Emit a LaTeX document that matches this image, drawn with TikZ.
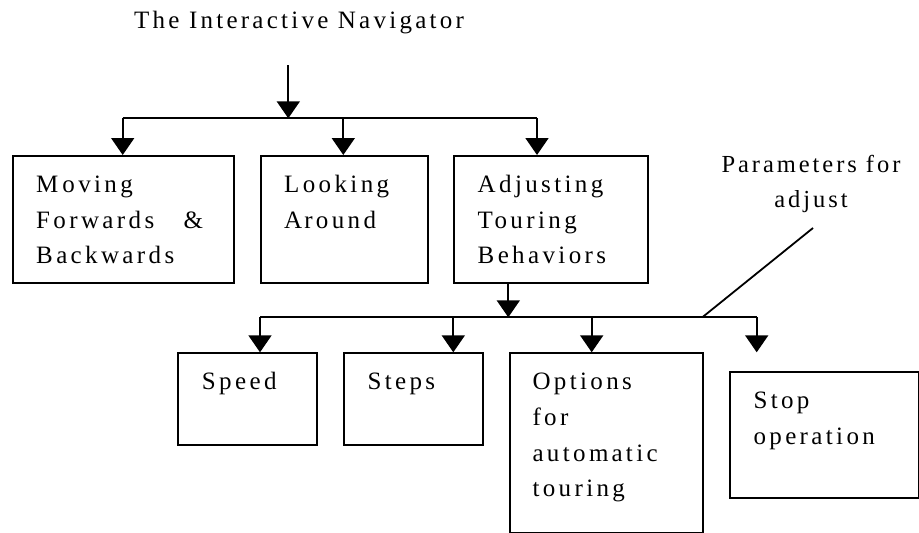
\documentclass[tikz,border=0pt]{standalone}
\usepackage{fontspec}
\setmainfont{Liberation Serif}
\newfontfamily\boxfont{Liberation Serif}[LetterSpace=13.5]
\newfontfamily\titlefont{Liberation Serif}[LetterSpace=13]
\newfontfamily\parfont{Liberation Serif}[LetterSpace=12]
\usetikzlibrary{arrows.meta}
\begin{document}
\begin{tikzpicture}[x=1pt,y=-1pt,
  ln/.style={line width=1.8pt},
  arr/.style={ln,-{Triangle[length=17pt,width=23pt]}},
  box/.style={draw,ln,rectangle,inner sep=0pt,anchor=north west},
  txt/.style={anchor=north west,inner sep=0pt,align=left,font=\boxfont\fontsize{25}{35.8}\selectfont}]
\useasboundingbox[fill=white] (0,0) rectangle (919,533);

% title
\node[anchor=base,inner sep=0pt,font=\titlefont\fontsize{25}{30}\selectfont] (title) at (299,28) {The Interactive Navigator};

% first row boxes
\node[box,minimum width=221pt,minimum height=126.7pt] (b1) at (12.3,155) {};
\node[box,minimum width=166.4pt,minimum height=126.7pt] (b2) at (260.3,155) {};
\node[box,minimum width=193.7pt,minimum height=126.7pt] (b3) at (453.3,155) {};

% second row boxes
\node[box,minimum width=138.7pt,minimum height=91.7pt] (b4) at (177.3,352.3) {};
\node[box,minimum width=138.7pt,minimum height=91.7pt] (b5) at (343.3,352.3) {};
\node[box,minimum width=193.3pt,minimum height=179.7pt] (b6) at (509,352.3) {};
\node[box,minimum width=188.7pt,minimum height=126.3pt] (b7) at (729.3,371) {};

% texts
\node[txt] (t1) at ([shift={(23.7,12)}]b1.north west) {\rule{0pt}{25pt}M\kern4pt oving\\\makebox[167pt][s]{Forwards\hfill\&}\\Backwards};
\node[txt] (t2) at ([shift={(23.7,12)}]b2.north west) {\rule{0pt}{25pt}Looking\\A\kern2pt round};
\node[txt] (t3) at ([shift={(24.2,12)}]b3.north west) {\rule{0pt}{25pt}Adjusting\\Touring\\Behaviors};
\node[txt] (t4) at ([shift={(24.4,12)}]b4.north west) {\rule{0pt}{25pt}Speed};
\node[txt] (t5) at ([shift={(24,12)}]b5.north west) {\rule{0pt}{25pt}Steps};
\node[txt] (t6) at ([shift={(23.3,12)}]b6.north west) {\rule{0pt}{25pt}Options\\for\\autom\kern3pt atic\\touring};
\node[txt] (t7) at ([shift={(24,12.3)}]b7.north west) {\rule{0pt}{25pt}Stop\\operation};

\node[anchor=north,inner sep=0pt,align=center,font=\parfont\fontsize{24.5}{35}\selectfont] (p) at (811,147) {\rule{0pt}{25pt}Param\kern3pt eters for\\adjust};

% connectors, first level
\coordinate (top) at (288.3,65);
\coordinate (m) at (288.3,118.3);
\coordinate (j1) at (122.7,118.3);
\coordinate (j2) at (343.3,118.3);
\coordinate (j3) at (537,118.3);
\draw[arr] (top) -- (m);
\draw[ln] (j1) -- (j3);
\draw[arr] (j1) -- (j1 |- b1.north);
\draw[arr] (j2) -- (j2 |- b2.north);
\draw[arr] (j3) -- (j3 |- b3.north);

% connectors, second level
\coordinate (k0) at (508.3,317.3);
\coordinate (k1) at (260,317.3);
\coordinate (k2) at (453.3,317.3);
\coordinate (k3) at (591.7,317.3);
\coordinate (k4) at (756.7,317.3);
\coordinate (k5) at (702.3,317.3);
\coordinate (s4) at (756.7,352.3);
\coordinate (d) at (813,228);
\draw[arr] (b3.south -| k0) -- (k0);
\draw[ln] (k1) -- (k4);
\draw[arr] (k1) -- (k1 |- b4.north);
\draw[arr] (k2) -- (k2 |- b5.north);
\draw[arr] (k3) -- (k3 |- b6.north);
\draw[arr] (k4) -- (s4);
\draw[ln] (k5) -- (d);
\end{tikzpicture}
\end{document}
